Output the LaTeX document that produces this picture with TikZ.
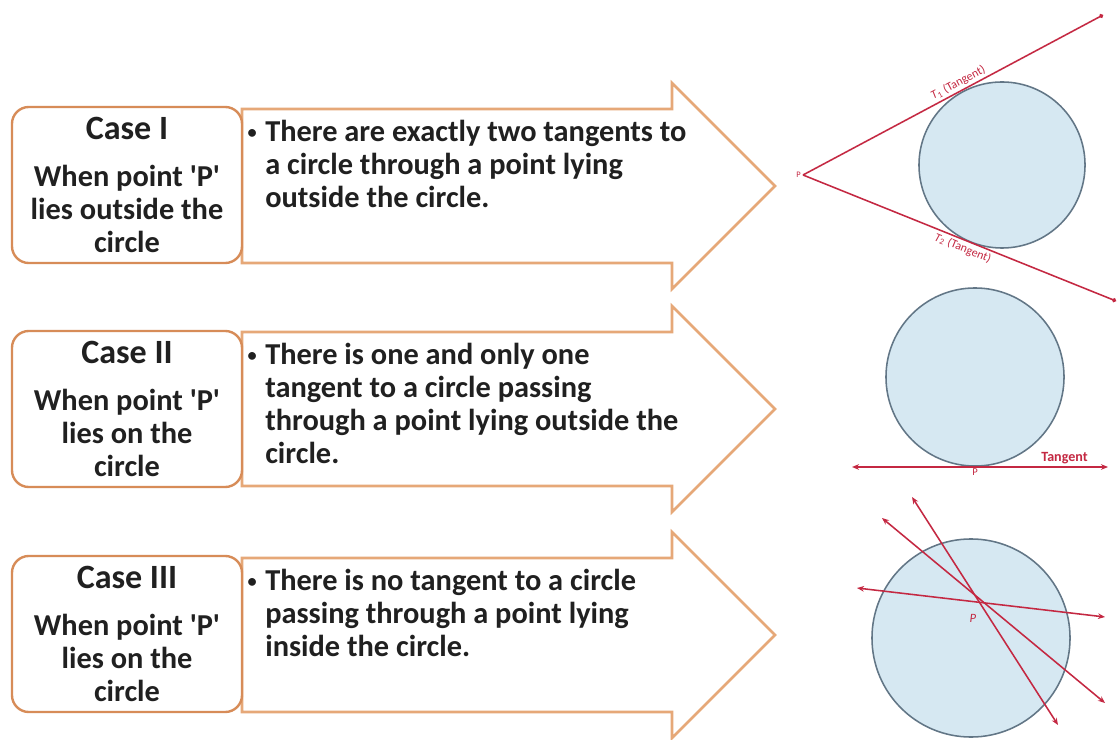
\documentclass[tikz,border=0pt]{standalone}
\usepackage{fontspec}
\setmainfont{Carlito}
\usepackage{tikz}
\usetikzlibrary{arrows.meta, positioning, calc}
\definecolor{cBox}{RGB}{215,140,88}
\definecolor{cArrow}{RGB}{230,168,120}
\definecolor{cDisc}{RGB}{214,232,242}
\definecolor{cRim}{RGB}{98,118,134}
\definecolor{cTan}{RGB}{196,40,66}
\definecolor{cInk}{RGB}{32,32,32}
\tikzset{
	casebox/.style  ={rectangle, rounded corners=12pt, draw=cBox, line width=1.7pt, fill=white, minimum width=5.75cm, minimum height=3.9cm, align=center, text=cInk, font=\bfseries\fontsize{21.6}{23.5}\selectfont},
	shaft/.style    ={draw=cArrow, line width=1.8pt, fill=white, line join=miter},
	bullettext/.style={anchor=north west, align=left, inner sep=0pt, text=cInk, font=\bfseries\fontsize{21.6}{23.5}\selectfont},
	% right-hand sketches
	disc/.style     ={circle, draw=cRim, line width=1.1pt, fill=cDisc, inner sep=0pt},
	tanline/.style  ={cTan, line width=1.1pt},
	tanarrow/.style ={cTan, line width=1.1pt, {Stealth[length=5pt,width=4pt]}-{Stealth[length=5pt,width=4pt]}},
	tanlabel/.style ={cTan, font=\fontsize{8.5}{9}\selectfont, inner sep=1.5pt},
}
\newcommand{\qP}{\textquotesingle P\textquotesingle}
\newcommand{\bul}{\llap{\raisebox{2pt}{\fontsize{13}{13}\selectfont\textbullet}\hspace{6pt}}}

\begin{document}
\begin{tikzpicture}[x=0.025cm, y=-0.025cm]
	\fill[white] (0,0) rectangle (1117,740);
	\useasboundingbox (0,0) rectangle (1117,740);
	% arrows behind the case boxes
	\foreach \t in {109,332,558} {
		\draw[shaft] (242,\t) -- (672,\t) -- (672,\t-26) -- (775,\t+77) -- (672,\t+180) -- (672,\t+154) -- (242,\t+154) -- cycle;
	}
	\node[casebox] (case1) at (127,185) {{\fontsize{24.2}{26}\selectfont Case I}\\[10pt]When point \qP\\lies outside the\\circle};
	\node[casebox] (case2) at (127,409) {{\fontsize{24.2}{26}\selectfont Case II}\\[10pt]When point \qP\\lies on the\\circle};
	\node[casebox] (case3) at (127,634) {{\fontsize{24.2}{26}\selectfont Case III}\\[10pt]When point \qP\\lies on the\\circle};
	\node[bullettext] (note1) at (265,120) {\bul There are exactly two tangents to\\a circle through a point lying\\outside the circle.};
	\node[bullettext] (note2) at (265,343) {\bul There is one and only one\\tangent to a circle passing\\through a point lying outside the\\circle.};
	\node[bullettext] (note3) at (265,569) {\bul There is no tangent to a circle\\passing through a point lying\\inside the circle.};

	% case I: two tangents from P
	\node[disc, minimum size=4.15cm] (c1) at (1002,165) {};
	\coordinate (P1) at (803,175);
	\coordinate (T1end) at (1103,15);
	\coordinate (T2end) at (1116,301);
	\draw[tanline, -{Circle[length=3pt]}] (P1) -- node[tanlabel, sloped, above, pos=0.53] {\textit{T}\textsubscript{1} (Tangent)} (T1end);
	\draw[tanline, -{Circle[length=3pt]}] (P1) -- node[tanlabel, sloped, below, pos=0.52] {\textit{T}\textsubscript{2} (Tangent)} (T2end);
	\node[tanlabel, left, font=\fontsize{6}{7}\selectfont] (p1lab) at (P1) {P};

	% case II: one tangent at P
	\node[disc, minimum size=4.45cm] (c2) at (975,377) {};
	\coordinate (P2) at (c2.south);
	\coordinate (tg2a) at (852,467);
	\coordinate (tg2b) at (1108,467);
	\draw[tanarrow] (tg2a) -- node[tanlabel, above, pos=0.83, font=\bfseries\fontsize{10}{11}\selectfont] {Tangent} (tg2b);
	\node[tanlabel, below, font=\fontsize{7.5}{8}\selectfont] (p2lab) at (P2) {P};

	% case III: P inside
	\node[disc, minimum size=4.95cm] (c3) at (971,638) {};
	\coordinate (P3) at (982,603);
	\foreach \i/\ax/\ay/\bx/\by in {1/857/588/1105/617, 2/912/497/1058/725, 3/882/518/1105/703} {
		\coordinate (a\i) at (\ax,\ay);
		\coordinate (b\i) at (\bx,\by);
		\draw[tanarrow] (a\i) -- (b\i);
	}
	\node[tanlabel, font=\itshape\fontsize{9}{10}\selectfont] (p3lab) at (973,618) {P};
\end{tikzpicture}
\end{document}
